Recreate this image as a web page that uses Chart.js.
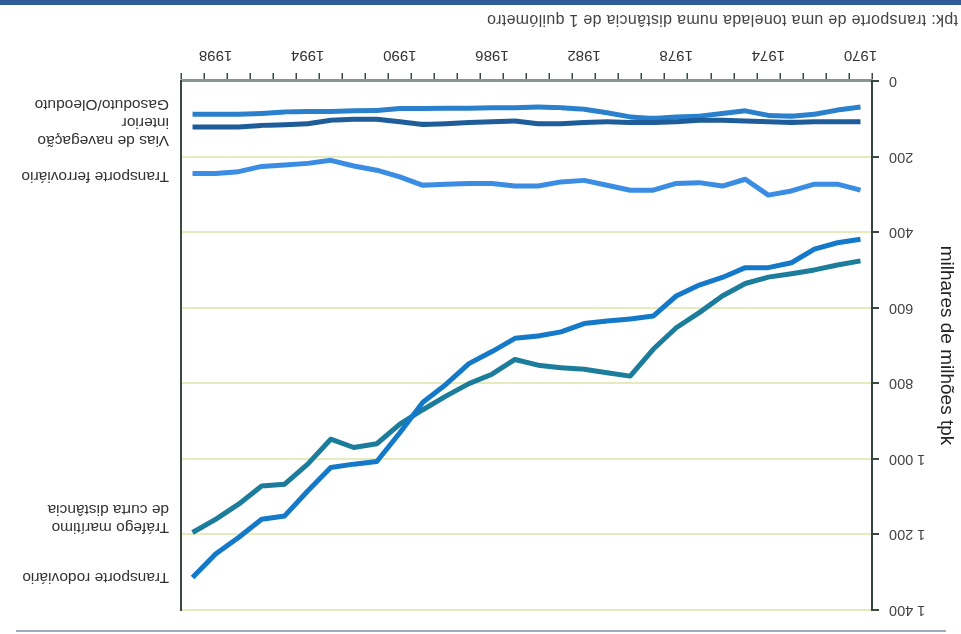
<!DOCTYPE html>
<html>
<head>
<meta charset="utf-8">
<script src="https://cdn.jsdelivr.net/npm/chart.js"></script>
<style>
  html, body { margin: 0; padding: 0; background: #fff; }
  /* the reference picture is upside down, so the whole page is turned */
  #page { position: relative; width: 961px; height: 634px; transform: rotate(180deg); font-family: "Liberation Sans", Arial, sans-serif; }
  #chart { position: absolute; left: 0; top: 0; }
  #note { position: absolute; left: 3px; top: 605px; font-size: 16px; letter-spacing: 0.3px; color: #444; }
  #band { position: absolute; left: 0; right: 0; bottom: 0; height: 5px; background: #2d5c98; }
  #topline { position: absolute; left: 15px; width: 930px; top: 2px; height: 2px; background: #9fadc0; }
</style>
</head>
<body>
<div id="page">
  <div id="topline"></div>
  <canvas id="chart" width="961" height="634"></canvas>
  <div id="note">tpk: transporte de uma tonelada numa distância de 1 quilómetro</div>
  <div id="band"></div>
</div>
<script>
const years = ['1970','1971','1972','1973','1974','1975','1976','1977','1978','1979',
               '1980','1981','1982','1983','1984','1985','1986','1987','1988','1989',
               '1990','1991','1992','1993','1994','1995','1996','1997','1998','1999'];

const road = [419,428,445,481,494,494,520,540,569,622,630,635,642,664,675,681,716,748,803,850,
              931,1007,1014,1023,1085,1151,1160,1208,1252,1314];
const sea = [476,487,500,510,519,536,569,613,653,710,781,772,763,759,752,737,776,801,834,870,
             908,960,970,948,1014,1067,1072,1120,1160,1195];
const rail = [289,273,273,291,302,260,278,269,271,289,289,276,263,267,278,278,271,271,273,276,
              254,236,225,210,218,222,226,240,245,245];
const inland = [108,108,108,110,108,106,104,104,108,110,110,108,110,113,113,106,108,110,113,115,
                108,101,101,104,113,116,118,122,122,122];
const pipeline = [69,77,88,93,91,79,86,93,95,99,95,84,75,71,69,71,71,72,72,73,
                  73,78,79,81,81,82,86,88,88,88];

const seriesLabels = [
  ['Transporte rodoviário'],
  ['Tráfego marítimo', 'de curta distância'],
  ['Transporte ferroviário'],
  ['Vias de navegação', 'interior'],
  ['Gasoduto/Oleoduto']
];
const seriesColors = ['#1479c9', '#1b7c9b', '#3b8de4', '#1e5c9a', '#2a80cc'];

const yTicks = [0, 200, 400, 600, 800, 1000, 1200, 1400];

Chart.defaults.font.family = '"Liberation Sans", Arial, sans-serif';
Chart.defaults.font.size = 15;
Chart.defaults.color = '#333';

// text next to the end of each line
const endLabels = {
  id: 'endLabels',
  afterDatasetsDraw(chart) {
    const ctx = chart.ctx;
    const shift = [0, 14, -3, -4, 10];
    ctx.save();
    ctx.font = '15.5px "Liberation Sans", Arial, sans-serif';
    ctx.fillStyle = '#333';
    ctx.textBaseline = 'middle';
    chart.data.datasets.forEach((ds, i) => {
      const meta = chart.getDatasetMeta(i);
      const pt = meta.data[meta.data.length - 1];
      const lines = seriesLabels[i];
      const y0 = pt.y + shift[i] - (lines.length - 1) * 9;
      lines.forEach((t, k) => ctx.fillText(t, chart.chartArea.right + 12, y0 + k * 18));
    });
    ctx.restore();
  }
};

const sets = [road, sea, rail, inland, pipeline].map((vals, i) => ({
  label: seriesLabels[i].join(' '),
  data: vals,
  borderColor: seriesColors[i],
  borderWidth: 5,
  pointRadius: 0,
  tension: 0,
  fill: false,
  borderJoinStyle: 'round'
}));

new Chart(document.getElementById('chart'), {
  type: 'line',
  data: { labels: years, datasets: sets },
  options: {
    responsive: false,
    animation: false,
    layout: { padding: { top: 24, right: 181, left: 0, bottom: 0 } },
    plugins: { legend: { display: false }, tooltip: { enabled: false } },
    scales: {
      x: {
        type: 'category',
        offset: true,
        grid: { offset: true, drawOnChartArea: false, tickLength: 8, color: '#3a4a42', lineWidth: 1.5 },
        border: { color: '#8a978e', width: 3 },
        ticks: {
          autoSkip: false, maxRotation: 0, padding: 9, color: '#333',
          callback: (v, i) => (i % 4 === 0 ? years[i] : '')
        },
        afterFit: s => { s.height = 81; }
      },
      y: {
        min: 0, max: 1400,
        afterBuildTicks: s => { s.ticks = yTicks.map(v => ({ value: v })); },
        grid: {
          color: c => (c.tick && c.tick.value === 0 ? 'rgba(0,0,0,0)' : '#e6ebbd'),
          lineWidth: 2, tickLength: 7, tickColor: '#3a4a42'
        },
        border: { color: '#33453d', width: 2 },
        ticks: {
          padding: 10, color: '#444', font: { size: 14.5 },
          callback: v => String(v).replace(/\B(?=(\d{3})+(?!\d))/g, ' ')
        },
        title: { display: true, text: 'milhares de milhões tpk', font: { size: 19 }, color: '#222', padding: { top: 3, bottom: 0 } },
        afterFit: s => { s.width = 89; }
      },
      y2: {
        position: 'right',
        min: 0, max: 1400,
        grid: { drawOnChartArea: false, drawTicks: false },
        border: { color: '#3a4a42', width: 2 },
        ticks: { display: false },
        afterFit: s => { s.width = 0; }
      }
    }
  },
  plugins: [endLabels]
});
</script>
</body>
</html>
